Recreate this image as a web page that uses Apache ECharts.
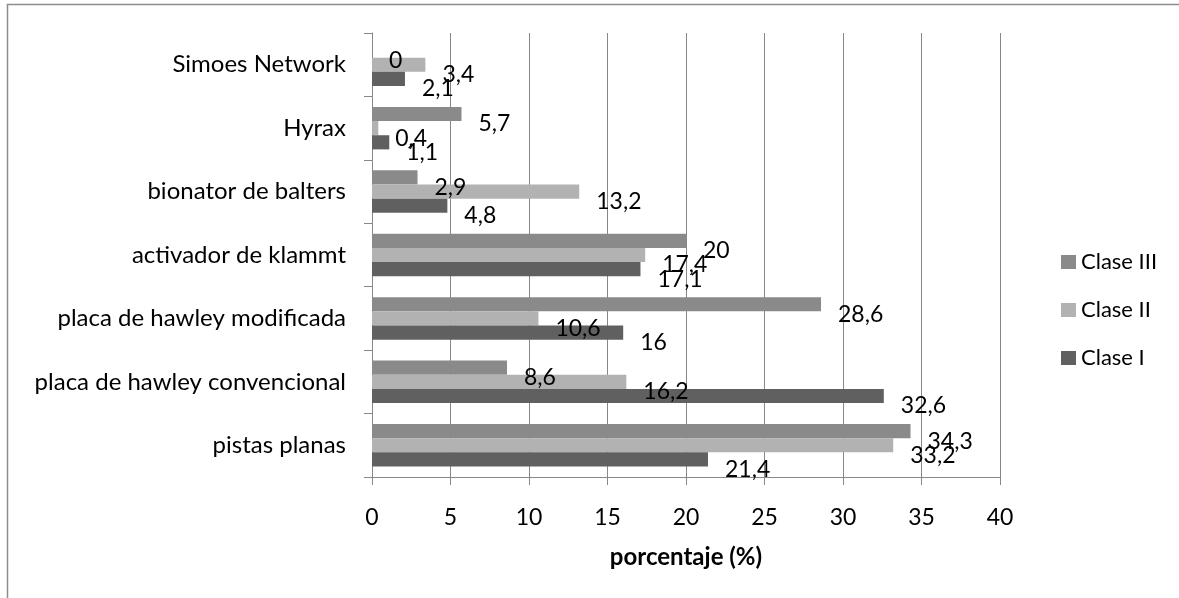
<!DOCTYPE html>
<html>
<head>
<meta charset="utf-8">
<script src="https://cdn.jsdelivr.net/npm/echarts@6/dist/echarts.min.js"></script>
<style>
  html, body { margin: 0; padding: 0; background: #ffffff; }
  #chart { width: 1179px; height: 598px; }
</style>
</head>
<body>
<div id="chart"></div>
<script>
// Categories listed bottom-to-top, as a category y axis stacks them
const categories = [
  'pistas planas',
  'placa de hawley convencional',
  'placa de hawley modificada',
  'activador de klammt',
  'bionator de balters',
  'Hyrax',
  'Simoes Network'
];
const claseI   = [21.4, 32.6, 16, 17.1, 4.8, 1.1, 2.1];
const claseII  = [33.2, 16.2, 10.6, 17.4, 13.2, 0.4, 3.4];
const claseIII = [34.3, 8.6, 28.6, 20, 2.9, 5.7, 0];
const xTicks = { min: 0, max: 40, interval: 5 };

const FONT = 'Lato';
const GRID = '#878787';

function labelFor() {
  return {
    show: true,
    position: 'right',
    distance: 17,
    offset: [0, 10],
    color: '#000',
    fontFamily: FONT,
    fontSize: 23,
    formatter: p => String(p.value).replace('.', ',')
  };
}

function barSeries(name, data, color) {
  return {
    name, type: 'bar', data,
    barGap: '0%', barCategoryGap: '33%',
    itemStyle: { color }, label: labelFor()
  };
}

const chart = echarts.init(document.getElementById('chart'), null, { renderer: 'canvas' });
chart.setOption({
  animation: false,
  backgroundColor: '#ffffff',
  graphic: [{
    type: 'rect',
    shape: { x: 7.5, y: 4.5, width: 1200, height: 700 },
    style: { fill: 'none', stroke: '#8c8c8c', lineWidth: 1.5 },
    silent: true
  }],
  grid: { left: 372, right: 179, top: 33, bottom: 121, containLabel: false },
  legend: {
    orient: 'vertical',
    left: 1056,
    top: 246,
    itemWidth: 15,
    itemHeight: 14,
    itemGap: 26,
    icon: 'rect',
    data: ['Clase III', 'Clase II', 'Clase I'],
    textStyle: { fontFamily: FONT, fontSize: 22, color: '#000', lineHeight: 16, padding: [5, 0, 0, 0] }
  },
  xAxis: {
    type: 'value',
    min: xTicks.min,
    max: xTicks.max,
    interval: xTicks.interval,
    name: 'porcentaje (%)',
    nameLocation: 'middle',
    nameGap: 68,
    nameTextStyle: { fontFamily: FONT, fontSize: 24, fontWeight: 'bold', color: '#000' },
    axisLine: { show: true, lineStyle: { color: GRID, width: 1 } },
    axisTick: { show: true, length: 8, lineStyle: { color: GRID } },
    axisLabel: { fontFamily: FONT, fontSize: 23, color: '#000', margin: 29 },
    splitLine: { show: true, lineStyle: { color: GRID, width: 1 } }
  },
  yAxis: {
    type: 'category',
    data: categories,
    axisLine: { show: true, lineStyle: { color: GRID, width: 1 } },
    axisTick: { show: true, length: 8, lineStyle: { color: GRID } },
    axisLabel: { fontFamily: FONT, fontSize: 24, color: '#000', margin: 26 },
    splitLine: { show: false }
  },
  // Series order puts Clase III on top of each group and Clase I at the bottom
  series: [
    barSeries('Clase III', claseIII, '#8a8a8a'),
    barSeries('Clase II', claseII, '#b2b2b2'),
    barSeries('Clase I', claseI, '#606060')
  ]
});
</script>
</body>
</html>
